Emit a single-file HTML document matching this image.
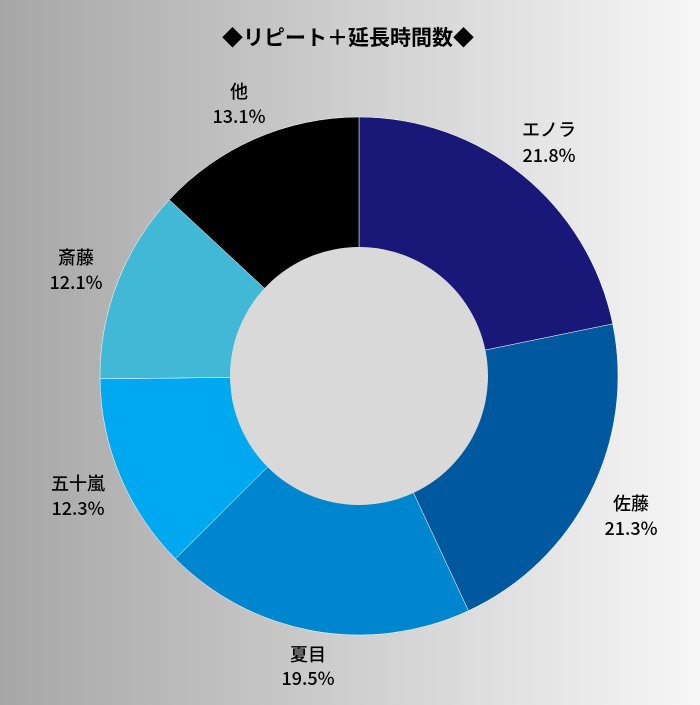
<!DOCTYPE html>
<html><head><meta charset="utf-8"><style>
html,body{margin:0;padding:0}
body{width:700px;height:700px;background:linear-gradient(to right,#a6a6a6,#f7f7f7);font-family:"Noto Sans CJK JP",sans-serif;overflow:hidden}
</style></head><body>
<svg id="s" width="700" height="700" xmlns="http://www.w3.org/2000/svg" font-family="Noto Sans CJK JP, sans-serif">
<text x="348" y="45" text-anchor="middle" font-size="21" font-weight="bold" fill="#000">◆リピート＋延長時間数◆</text>
<g id="g"></g>
<circle cx="359" cy="376" r="129" fill="#d9d9d9"/>
<g font-size="18" font-weight="500" fill="#000" text-anchor="middle">
<text x="549" y="136">エノラ</text><text x="549" y="162">21.8%</text>
<text x="631" y="510">佐藤</text><text x="631" y="535">21.3%</text>
<text x="308" y="661">夏目</text><text x="308" y="685">19.5%</text>
<text x="78" y="490">五十嵐</text><text x="78" y="515">12.3%</text>
<text x="76" y="264">斎藤</text><text x="76" y="289">12.1%</text>
<text x="239" y="98">他</text><text x="239" y="123">13.1%</text>
</g>
</svg>
<script>
var v=[21.8,21.3,19.5,12.3,12.1,13.1],c=["#191777","#00589e","#0086cf","#00a9ef","#41b8d6","#000000"];
var t=v.reduce((a,b)=>a+b),cx=359,cy=376,r=259,a=0,h="";
v.forEach(function(x,i){var a0=a/t*2*Math.PI;a+=x;var a1=a/t*2*Math.PI;
var p=function(q){return (cx+r*Math.sin(q)).toFixed(2)+","+(cy-r*Math.cos(q)).toFixed(2)};
h+='<path d="M'+cx+','+cy+' L'+p(a0)+' A'+r+','+r+' 0 '+((a1-a0)>Math.PI?1:0)+' 1 '+p(a1)+' Z" fill="'+c[i]+'" stroke="#fff" stroke-width="0.5"/>';});
document.getElementById("g").innerHTML=h;
</script>
</body></html>
